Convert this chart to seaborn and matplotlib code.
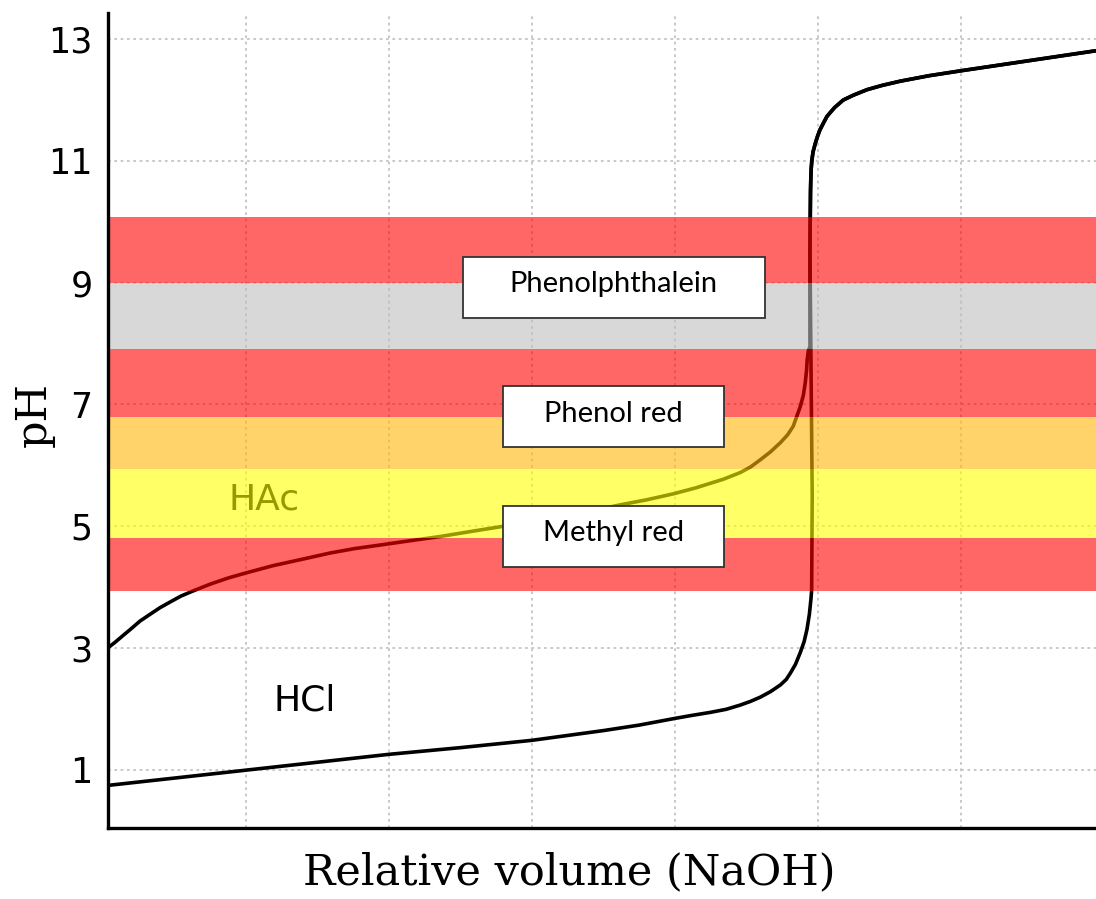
import matplotlib
matplotlib.use('Agg')
import matplotlib.pyplot as plt
from matplotlib.patches import Rectangle
import pandas as pd
import seaborn as sns

# titration curves, values
hcl_volume = [0.036, 0.5, 1.0, 1.5, 2.0, 2.5, 3.0, 3.5, 3.75, 4.0, 4.12, 4.25, 4.36,
              4.459, 4.53, 4.599, 4.67, 4.739, 4.78, 4.808, 4.845, 4.878, 4.905,
              4.925, 4.942, 4.953, 4.958, 4.962, 4.952, 4.946, 4.950, 4.952, 4.955,
              4.960, 4.968, 4.985, 5.0, 5.016, 5.04, 5.065, 5.09, 5.12, 5.179, 5.25,
              5.345, 5.45, 5.578, 5.78, 6.0, 6.947]
hcl_ph = [0.74, 0.86, 0.99, 1.12, 1.25, 1.36, 1.48, 1.64, 1.73, 1.84, 1.89, 1.94, 1.99,
          2.06, 2.12, 2.19, 2.28, 2.39, 2.48, 2.58, 2.73, 2.92, 3.1,
          3.3, 3.55, 3.8, 3.95, 5.5, 8.0, 9.5, 10.5, 10.7, 10.88,
          11.02, 11.15, 11.3, 11.41, 11.51, 11.62, 11.73, 11.8, 11.88, 12.0, 12.08,
          12.17, 12.24, 12.31, 12.4, 12.48, 12.81]

hac_volume = [0.036, 0.09, 0.14, 0.196, 0.26, 0.336, 0.4, 0.476, 0.546, 0.616, 0.69,
              0.755, 0.88, 1.0, 1.19, 1.384, 1.594, 1.76, 1.943, 2.15, 2.363, 2.57,
              2.782, 3.0, 3.2, 3.4, 3.62, 3.8, 3.99, 4.15, 4.34, 4.459, 4.53, 4.599,
              4.67, 4.739, 4.79, 4.829, 4.878, 4.9, 4.913, 4.922, 4.927, 4.935, 4.946,
              4.946, 4.950, 4.952, 4.955,
              4.960, 4.968, 4.985, 5.0, 5.016, 5.04, 5.065, 5.09, 5.12, 5.179, 5.25,
              5.345, 5.45, 5.578, 5.78, 6.0, 6.947]
hac_ph = [3.0, 3.1, 3.2, 3.31, 3.44, 3.56, 3.66, 3.76, 3.85, 3.92, 3.99,
          4.05, 4.15, 4.23, 4.35, 4.45, 4.56, 4.63, 4.69, 4.76, 4.83, 4.91,
          4.99, 5.07, 5.15, 5.24, 5.35, 5.43, 5.53, 5.63, 5.77, 5.88, 5.97, 6.09,
          6.22, 6.37, 6.5, 6.64, 6.96, 7.15, 7.35, 7.55, 7.74, 7.88, 7.95,
          9.5, 10.5, 10.7, 10.88,
          11.02, 11.15, 11.3, 11.41, 11.51, 11.62, 11.73, 11.8, 11.88, 12.0, 12.08,
          12.17, 12.24, 12.31, 12.4, 12.48, 12.81]

# indicator colour bands (pH ranges)
band_low = [3.93, 4.81, 5.93, 6.79, 7.91, 8.99]
band_high = [4.81, 5.93, 6.79, 7.91, 8.99, 10.08]
band_colors = ['#ff0000', '#ffff00', '#ffb707', '#ff0000', '#bebebe', '#ff0000']

indicator_names = ['Phenolphthalein', 'Phenol red', 'Methyl red']
# label boxes: left, right, bottom, top (data units)
box_left = [2.516, 2.796, 2.796]
box_right = [4.634, 4.347, 4.347]
box_bottom = [8.42, 6.30, 4.33]
box_top = [9.42, 7.30, 5.33]

y_ticks = [1, 3, 5, 7, 9, 11, 13]
x_ticks = [1, 2, 3, 4, 5, 6]

df_hcl = pd.DataFrame({'volume': hcl_volume, 'pH': hcl_ph})
df_hac = pd.DataFrame({'volume': hac_volume, 'pH': hac_ph})

sns.set_style('white')
plt.rcParams['font.family'] = ['DejaVu Sans']
plt.rcParams['text.color'] = 'black'
plt.rcParams['axes.labelcolor'] = 'black'
plt.rcParams['xtick.color'] = 'black'
plt.rcParams['ytick.color'] = 'black'

fig = plt.figure(figsize=(10.96, 8.99), dpi=100)
ax = fig.add_axes([108 / 1096, 1 - 828 / 899, 988 / 1096, (828 - 13) / 899])

sns.lineplot(data=df_hcl, x='volume', y='pH', sort=False, estimator=None,
             color='black', linewidth=2.6, ax=ax, zorder=2)
sns.lineplot(data=df_hac, x='volume', y='pH', sort=False, estimator=None,
             color='black', linewidth=2.6, ax=ax, zorder=2)

ax.text(1.41, 2.14, 'HCl', fontsize=26, ha='center', va='center', color='black', zorder=2)
ax.text(1.126, 5.43, 'HAc', fontsize=26, ha='center', va='center', color='black', zorder=2)

# bands over the curves (semi-transparent)
for lo, hi, c in zip(band_low, band_high, band_colors):
    ax.axhspan(lo, hi, color=c, alpha=0.6, linewidth=0, zorder=3)

for name, l, r, b, t in zip(indicator_names, box_left, box_right, box_bottom, box_top):
    ax.add_patch(Rectangle((l, b), r - l, t - b, facecolor='white',
                           edgecolor='#333333', linewidth=1.3, zorder=5))
    ax.text((l + r) / 2, (b + t) / 2 + 0.05, name, fontsize=21, family='Lato',
            ha='center', va='center', color='black', zorder=6)

ax.set_xlim(0.036, 6.947)
ax.set_ylim(0.04, 13.43)
ax.set_xticks(x_ticks)
ax.set_yticks(y_ticks)
ax.set_xticklabels([])
ax.set_axisbelow(True)
ax.grid(True, color='#c4c4c4', linestyle=(0, (1.5, 2)), linewidth=1.3)
ax.tick_params(axis='both', direction='in', length=18, width=2.2, color='black')
ax.tick_params(axis='y', labelsize=25, pad=11, labelcolor='black')

for s in ['top', 'right']:
    ax.spines[s].set_visible(False)
for s in ['left', 'bottom']:
    ax.spines[s].set_linewidth(2.4)
    ax.spines[s].set_color('black')
    ax.spines[s].set_zorder(4)

ax.set_xlabel('Relative volume (NaOH)', fontsize=31, family='DejaVu Serif', color='black')
ax.set_ylabel('pH', fontsize=31, family='DejaVu Serif', color='black')
ax.xaxis.set_label_coords(0.467, -0.029)
ax.yaxis.set_label_coords(-0.054, 0.507)

fig.savefig('out.png', dpi=100)
